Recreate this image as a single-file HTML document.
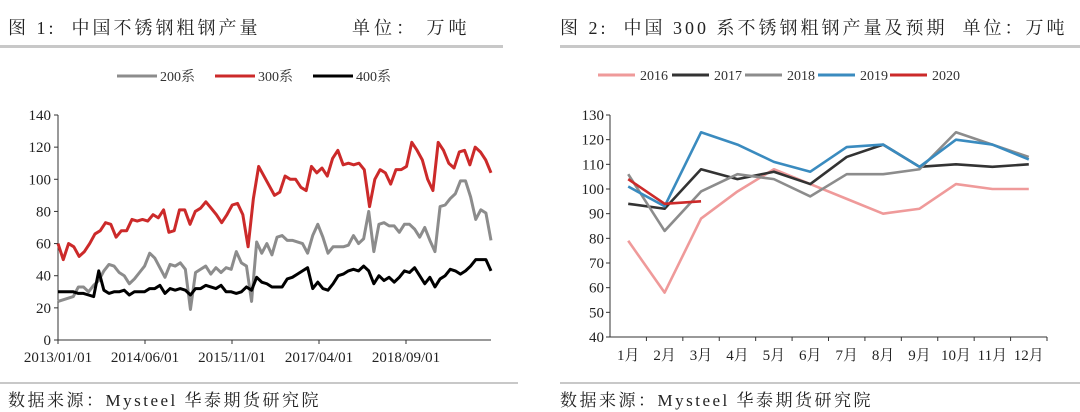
<!DOCTYPE html>
<html><head><meta charset="utf-8"><style>
body{margin:0;background:#fff;width:1080px;height:412px;overflow:hidden;font-family:"Liberation Serif","Noto Serif CJK SC",serif;}
svg{display:block}
</style></head><body>
<svg width="1080" height="412" font-family="'Liberation Serif','Noto Serif CJK SC',serif">
<g>
<text x="8" y="34" font-size="18" fill="#222" letter-spacing="3" xml:space="preserve">图 1:  中国不锈钢粗钢产量</text>
<text x="352" y="34" font-size="18" fill="#222" letter-spacing="4" xml:space="preserve">单位： 万吨</text>
<rect x="0" y="45" width="503" height="3" fill="#c8c8c8"/>
</g>
<g>
<text x="560" y="34" font-size="18" fill="#222" letter-spacing="3" xml:space="preserve">图 2:  中国 300 系不锈钢粗钢产量及预期  单位：万吨</text>
<rect x="560" y="45" width="520" height="3" fill="#c8c8c8"/>
</g>
<rect x="0" y="382" width="518" height="2" fill="#c8c8c8"/>
<text x="8" y="406" font-size="17" fill="#222" letter-spacing="2.5">数据来源：Mysteel 华泰期货研究院</text>
<rect x="560" y="382" width="520" height="2" fill="#c8c8c8"/>
<text x="560" y="406" font-size="17" fill="#222" letter-spacing="2.5">数据来源：Mysteel 华泰期货研究院</text>
<g id="left"></g>
<g id="right"></g>
</svg>
<script>
const s200=[24,25,26,27,33,33,30,34,37,43,47,46,42,40,35,38,42,46,54,51,45,39,47,46,48,44,19,42,44,46,41,45,42,45,44,55,48,46,24,61,54,60,53,64,65,62,62,61,60,54,65,72,64,54,58,58,58,59,65,60,63,80,55,72,73,71,71,67,72,72,69,64,70,62,55,83,84,88,91,99,99,89,75,81,79,62];
const s300=[60,50,60,58,52,55,60,66,68,73,72,64,68,68,75,74,75,74,78,76,81,67,68,81,81,72,80,82,86,82,78,73,78,84,85,78,58,88,108,102,96,90,92,102,100,100,95,93,108,104,107,102,113,118,109,110,109,110,106,83,100,106,104,97,106,106,108,123,118,112,100,93,123,118,110,107,117,118,109,120,117,112,104];
const s400=[30,30,30,30,29,29,28,27,43,31,29,30,30,31,28,30,30,30,32,32,34,29,32,31,32,31,28,32,32,34,33,32,34,30,30,29,30,33,31,39,36,35,33,33,33,38,39,41,43,45,32,36,32,31,35,40,41,43,44,43,46,43,35,40,37,39,36,39,43,42,45,40,35,39,33,38,40,44,43,41,43,46,50,50,50,43];
const leftTicks=[0,20,40,60,80,100,120,140];
const dateLabels=["2013/01/01","2014/06/01","2015/11/01","2017/04/01","2018/09/01"];
const months=["1月","2月","3月","4月","5月","6月","7月","8月","9月","10月","11月","12月"];
const y2016=[79,58,88,99,108,102,96,90,92,102,100,100];
const y2017=[94,92,108,104,107,102,113,118,109,110,109,110];
const y2018=[106,83,99,106,104,97,106,106,108,123,118,113];
const y2019=[101,93,123,118,111,107,117,118,109,120,118,112];
const y2020=[104,94,95];
const rightTicks=[40,50,60,70,80,90,100,110,120,130];

const NS="http://www.w3.org/2000/svg";
function mk(p,t,a){const e=document.createElementNS(NS,t);for(const k in a)e.setAttribute(k,a[k]);p.appendChild(e);return e;}

// LEFT
const L=document.getElementById('left');
const lx0=58,lx1=491,ly0=340,ly1=115;
const ly=v=>ly0-(v/140)*(ly0-ly1);
const lxi=(i,n)=>lx0+i*(lx1-lx0)/(n-1);
let ax=mk(L,'line',{x1:lx0,y1:ly1,x2:lx0,y2:ly0,stroke:'#333','stroke-width':1});

ax=mk(L,'line',{x1:lx0,y1:ly0,x2:lx1,y2:ly0,stroke:'#333','stroke-width':1});

leftTicks.forEach(v=>{
  const t=mk(L,'text',{x:lx0-7,y:ly(v)+5,'font-size':15,'text-anchor':'end',fill:'#222'});t.textContent=v;
  
  const m=mk(L,'line',{x1:lx0-4,y1:ly(v),x2:lx0,y2:ly(v),stroke:'#333'});
  
});
dateLabels.forEach((d,i)=>{
  const x=lx0+i*87;
  const m=mk(L,'line',{x1:x,y1:ly0,x2:x,y2:ly0+4,stroke:'#333'});
  
  const t=mk(L,'text',{x:x,y:ly0+22,'font-size':15,'text-anchor':'middle',fill:'#222'});t.textContent=d;
  
});
[[s200,'#8c8c8c','series-200'],[s400,'#000','series-400'],[s300,'#cc2a2a','series-300']].forEach(([arr,c,n])=>{
  const p=mk(L,'polyline',{points:arr.map((v,i)=>lxi(i,arr.length)+','+ly(v)).join(' '),fill:'none',stroke:c,'stroke-width':3,'stroke-linejoin':'round'});
  
});
[['200系','#8c8c8c',117],['300系','#cc2a2a',215],['400系','#000',313]].forEach(([lab,c,x])=>{
  const g=mk(L,'g',{});
  mk(g,'line',{x1:x,y1:76,x2:x+40,y2:76,stroke:c,'stroke-width':3});
  const t=mk(g,'text',{x:x+43,y:81,'font-size':14,fill:'#333'});t.textContent=lab;
});

// RIGHT
const R=document.getElementById('right');
const rx0=610,rx1=1047,ry0=337,ry1=115,bw=(rx1-rx0)/12;
const ry=v=>ry0-(v-40)/90*(ry0-ry1);
const rx=i=>rx0+bw*(i+0.5);
ax=mk(R,'line',{x1:rx0,y1:ry1,x2:rx0,y2:ry0,stroke:'#333'});

ax=mk(R,'line',{x1:rx0,y1:ry0,x2:rx1,y2:ry0,stroke:'#333'});

rightTicks.forEach(v=>{
  const t=mk(R,'text',{x:rx0-6,y:ry(v)+5,'font-size':15,'text-anchor':'end',fill:'#222'});t.textContent=v;
  
  const m=mk(R,'line',{x1:rx0-4,y1:ry(v),x2:rx0,y2:ry(v),stroke:'#333'});
  
});
months.forEach((m,i)=>{
  const k=mk(R,'line',{x1:rx0+bw*(i+1),y1:ry0,x2:rx0+bw*(i+1),y2:ry0+4,stroke:'#333'});
  
  const t=mk(R,'text',{x:rx(i),y:ry0+23,'font-size':15,'text-anchor':'middle',fill:'#222'});t.textContent=m;
  
});
const rs=[[y2016,'#ef9a9a','series-2016','2016',598],[y2017,'#333','series-2017','2017',672],[y2018,'#8c8c8c','series-2018','2018',745],[y2019,'#3a8bbf','series-2019','2019',818],[y2020,'#cc2a2a','series-2020','2020',890]];
rs.forEach(([arr,c,n])=>{
  const p=mk(R,'polyline',{points:arr.map((v,i)=>rx(i)+','+ry(v)).join(' '),fill:'none',stroke:c,'stroke-width':2.6,'stroke-linejoin':'round'});
  
});
rs.forEach(([arr,c,n,lab,x])=>{
  const g=mk(R,'g',{});
  mk(g,'line',{x1:x,y1:75,x2:x+37,y2:75,stroke:c,'stroke-width':3});
  const t=mk(g,'text',{x:x+42,y:80,'font-size':14,fill:'#333'});t.textContent=lab;
});
</script>
</body></html>
